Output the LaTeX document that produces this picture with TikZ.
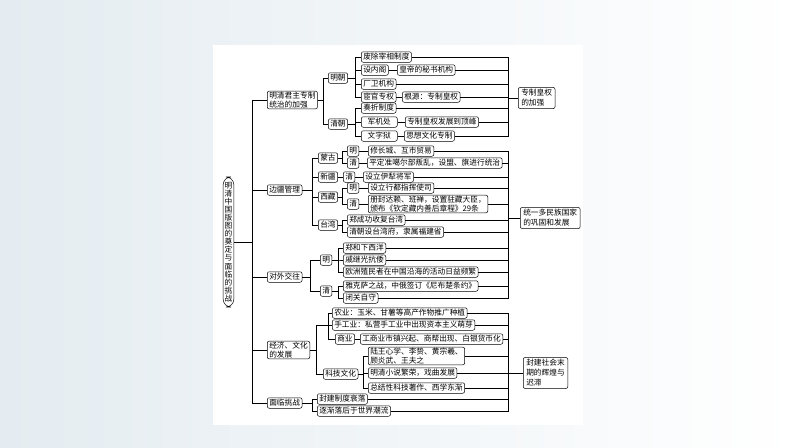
\documentclass[tikz,border=0pt]{standalone}
\usepackage{fontspec}
\newfontfamily\cn{Noto Sans CJK SC}
\usetikzlibrary{positioning}
\definecolor{bgblue}{HTML}{E4ECF1}
\tikzset{
  box/.style={draw, rounded corners=2pt, fill=white, line width=0.5pt, inner xsep=2pt, inner ysep=0.8pt,
    minimum height=10.5pt, anchor=west, align=left, font=\cn\fontsize{7.7}{9}\selectfont},
  sumbox/.style={box, inner xsep=3pt, inner ysep=2pt, font=\cn\fontsize{7.7}{10}\selectfont},
  link/.style={line width=0.5pt}
}

\begin{document}
\begin{tikzpicture}[x=1pt, y=-1pt]
  \useasboundingbox (0,0) rectangle (794,447);
  \shade[left color=bgblue, right color=white] (0,0) rectangle (794,447);
  \fill[white] (213,45) rectangle (583,425);

  % root and first level
  \node[box, anchor=center, align=center, rounded corners=8pt, inner xsep=1.5pt, inner ysep=5pt,
    font=\cn\fontsize{7.7}{8.1}\selectfont] (root) at (228.5,242)
    {明\\清\\中\\国\\版\\图\\的\\奠\\定\\与\\面\\临\\的\\挑\\战};
  \coordinate (mb) at (252,242);
  \node[box] (jq) at (267,100) {明清君主专制\\统治的加强};
  \node[box] (bj) at (267,190) {边疆管理};
  \node[box] (dw) at (267,277) {对外交往};
  \node[box] (jj) at (267,350) {经济、文化\\的发展};
  \node[box] (ml) at (267,403) {面临挑战};
  \foreach \c in {jq,bj,dw,jj,ml}
    \draw[link] (root.east) -- (mb) |- (\c.west);

  % 君主专制
  \node[box] (mc) at (328,78) {明朝};
  \node[box] (qc) at (328,124) {清朝};
  \node[box] (a1) at (361,57) {废除宰相制度};
  \node[box] (a2) at (361,70) {设内阁};
  \node[box] (a2r) at (397,70) {皇帝的秘书机构};
  \node[box] (a3) at (361,84) {厂卫机构};
  \node[box] (a4) at (361,97) {宦官专权};
  \node[box] (a4r) at (402,97) {根源：专制皇权};
  \node[box] (b1) at (361,108) {奏折制度};
  \node[box, minimum width=36pt] (b2) at (361,122) {军机处};
  \node[box] (b2r) at (405,122) {专制皇权发展到顶峰};
  \node[box, minimum width=36pt] (b3) at (361,136) {文字狱};
  \node[box] (b3r) at (404,136) {思想文化专制};
  \node[sumbox] (s1) at (518,98) {专制皇权\\的加强};
  \coordinate (x1) at (323,0);
  \coordinate (x2) at (355,0);
  \coordinate (r1) at (508,98);
  \foreach \c in {mc,qc}
    \draw[link] (jq.east) -- (jq.east -| x1) |- (\c.west);
  \foreach \c in {a1,a2,a3,a4}
    \draw[link] (mc.east) -- (mc.east -| x2) |- (\c.west);
  \foreach \c in {b1,b2,b3}
    \draw[link] (qc.east) -- (qc.east -| x2) |- (\c.west);
  \draw[link] (a2) -- (a2r);
  \draw[link] (a4) -- (a4r);
  \draw[link] (b2) -- (b2r);
  \draw[link] (b3) -- (b3r);
  \foreach \c in {a1,a2r,a3,a4r,b1,b2r,b3r}
    \draw[link] (\c.east) -| (r1);
  \draw[link] (r1) -- (s1.west);

  % 边疆管理
  \node[box] (mg) at (318,158) {蒙古};
  \node[box] (xj) at (318,177) {新疆};
  \node[box] (xz) at (318,197) {西藏};
  \node[box] (tw) at (318,225) {台湾};
  \node[box] (mgm) at (347,151) {明};
  \node[box] (mgq) at (347,163) {清};
  \node[box] (xjq) at (343,177) {清};
  \node[box] (xzm) at (347,188) {明};
  \node[box] (xzq) at (347,204) {清};
  \node[box] (c1) at (368,151) {修长城、互市贸易};
  \node[box] (c2) at (367,163) {平定准噶尔部叛乱，设盟、旗进行统治};
  \node[box] (c3) at (363,177) {设立伊犁将军};
  \node[box] (c4) at (368,188) {设立行都指挥使司};
  \node[box] (c5) at (368,204) {册封达赖、班禅，设置驻藏大臣，\\颁布《钦定藏内善后章程》29条};
  \node[box] (c6) at (347,220) {郑成功收复台湾};
  \node[box] (c7) at (347,232) {清朝设台湾府，隶属福建省};
  \coordinate (x3) at (312,0);
  \coordinate (x4) at (342,0);
  \foreach \c in {mg,xj,xz,tw}
    \draw[link] (bj.east) -- (bj.east -| x3) |- (\c.west);
  \foreach \c in {mgm,mgq}
    \draw[link] (mg.east) -- (mg.east -| x4) |- (\c.west);
  \foreach \c in {xzm,xzq}
    \draw[link] (xz.east) -- (xz.east -| x4) |- (\c.west);
  \foreach \c in {c6,c7}
    \draw[link] (tw.east) -- (tw.east -| x4) |- (\c.west);
  \draw[link] (xj) -- (xjq);
  \draw[link] (mgm) -- (c1);
  \draw[link] (mgq) -- (c2);
  \draw[link] (xjq) -- (c3);
  \draw[link] (xzm) -- (c4);
  \draw[link] (xzq) -- (c5);

  % 对外交往
  \node[box] (dm) at (320,260) {明};
  \node[box] (dq) at (320,291) {清};
  \node[box] (d1) at (343,248) {郑和下西洋};
  \node[box] (d2) at (343,260) {戚继光抗倭};
  \node[box] (d3) at (343,272) {欧洲殖民者在中国沿海的活动日益频繁};
  \node[box] (d4) at (343,286) {雅克萨之战，中俄签订《尼布楚条约》};
  \node[box] (d5) at (343,298) {闭关自守};
  \node[sumbox] (s2) at (520,218) {统一多民族国家\\的巩固和发展};
  \coordinate (x5) at (310,0);
  \coordinate (x6) at (338,0);
  \coordinate (r2) at (508,218);
  \foreach \c in {dm,dq}
    \draw[link] (dw.east) -- (dw.east -| x5) |- (\c.west);
  \foreach \c in {d1,d2,d3}
    \draw[link] (dm.east) -- (dm.east -| x6) |- (\c.west);
  \foreach \c in {d4,d5}
    \draw[link] (dq.east) -- (dq.east -| x6) |- (\c.west);
  \foreach \c in {c1,c2,c3,c4,c5,c6,c7,d1,d2,d3,d4,d5}
    \draw[link] (\c.east) -| (r2);
  \draw[link] (r2) -- (s2.west);

  % 经济、文化与挑战
  \node[box] (e1) at (332,313) {农业：玉米、甘薯等高产作物推广种植};
  \node[box] (e2) at (332,325) {手工业：私营手工业中出现资本主义萌芽};
  \node[box] (e3) at (335,339) {商业};
  \node[box] (e3r) at (360,339) {工商业市镇兴起、商帮出现、白银货币化};
  \node[box] (e4) at (323,374) {科技文化};
  \node[box] (f1) at (368,356) {陆王心学、李贽、黄宗羲、\\顾炎武、王夫之};
  \node[box] (f2) at (368,373) {明清小说繁荣，戏曲发展};
  \node[box] (f3) at (368,388) {总结性科技著作、西学东渐};
  \node[box] (g1) at (317,399) {封建制度衰落};
  \node[box] (g2) at (317,411) {逐渐落后于世界潮流};
  \node[sumbox] (s3) at (523,373) {封建社会末\\期的辉煌与\\迟滞};
  \coordinate (x7) at (316,0);
  \coordinate (x8) at (328,0);
  \coordinate (x9) at (363,0);
  \coordinate (r3) at (508,373);
  \foreach \c in {e2,e4}
    \draw[link] (jj.east) -- (jj.east -| x7) |- (\c.west);
  \draw[link] (e1.west) -- (e1.west -| x8) |- (e3.west);
  \draw[link] (e3) -- (e3r);
  \foreach \c in {f1,f2,f3}
    \draw[link] (e4.east) -- (e4.east -| x9) |- (\c.west);
  \foreach \c in {g1,g2}
    \draw[link] (ml.east) -- (ml.east -| x3) |- (\c.west);
  \foreach \c in {e1,e2,e3r,f1,f2,f3,g1,g2}
    \draw[link] (\c.east) -| (r3);
  \draw[link] (r3) -- (s3.west);
\end{tikzpicture}
\end{document}
